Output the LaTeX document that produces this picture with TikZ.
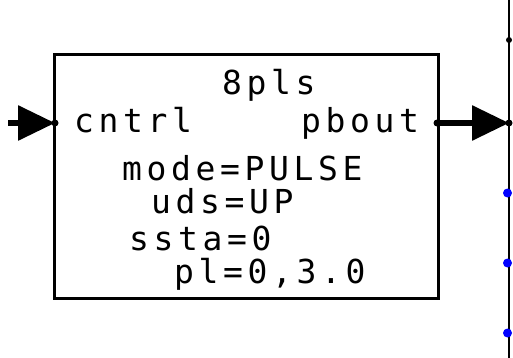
\documentclass[tikz,border=0pt]{standalone}
\usepackage{fontspec}
\usetikzlibrary{arrows.meta}
\newfontfamily\monof[LetterSpace=14]{DejaVu Sans Mono}
\begin{document}
\begin{tikzpicture}[x=1pt,y=-1pt,
  lbl/.style={anchor=base west, inner sep=0pt, font=\monof\fontsize{33}{34}\selectfont},
  port/.style={circle, fill=black, inner sep=0pt, minimum size=7pt},
  bdot/.style={circle, fill=blue, inner sep=0pt, minimum size=9pt},
  wire/.style={line width=6pt, -{Triangle[length=37pt,width=34pt]}},
  busline/.style={line width=2.5pt},
  blockbox/.style={draw, line width=3pt, outer sep=0pt, inner sep=0pt, minimum width=384pt, minimum height=243pt, anchor=north west}
  ]
\useasboundingbox (0,0) rectangle (513,358);
\node[blockbox] (blk) at (54,55) {};
\coordinate (lin) at (8,123);
\coordinate (pin) at (55,123);
\coordinate (pout) at (437,123);
\coordinate (bin) at (509,123);
\coordinate (busTop) at (509,0);
\coordinate (busBot) at (509,358);
\draw[busline] (busTop) -- (busBot);
\draw[wire] (lin) -- (pin);
\draw[wire] (pout) -- (bin);
\node[port] (dpin) at (pin) {};
\node[port] (dpout) at (pout) {};
\node[port] (dbin) at (bin) {};
\node[port, minimum size=6pt] (dtop) at (509,40) {};
\node[bdot] (b1) at (507.5,193) {};
\node[bdot] (b2) at (507.5,263) {};
\node[bdot] (b3) at (507.5,333) {};
\node[lbl] (t0) at (222,95) {8pls};
\node[lbl] (t1) at (74,133) {cntrl};
\node[lbl] (t2) at (301,133) {pbout};
\node[lbl] (t3) at (122,180) {mode=PULSE};
\node[lbl] (t4) at (151,213) {uds=UP};
\node[lbl] (t5) at (129,250) {ssta=0};
\node[lbl] (t6) at (174,283) {pl=0,3.0};
\end{tikzpicture}
\end{document}
